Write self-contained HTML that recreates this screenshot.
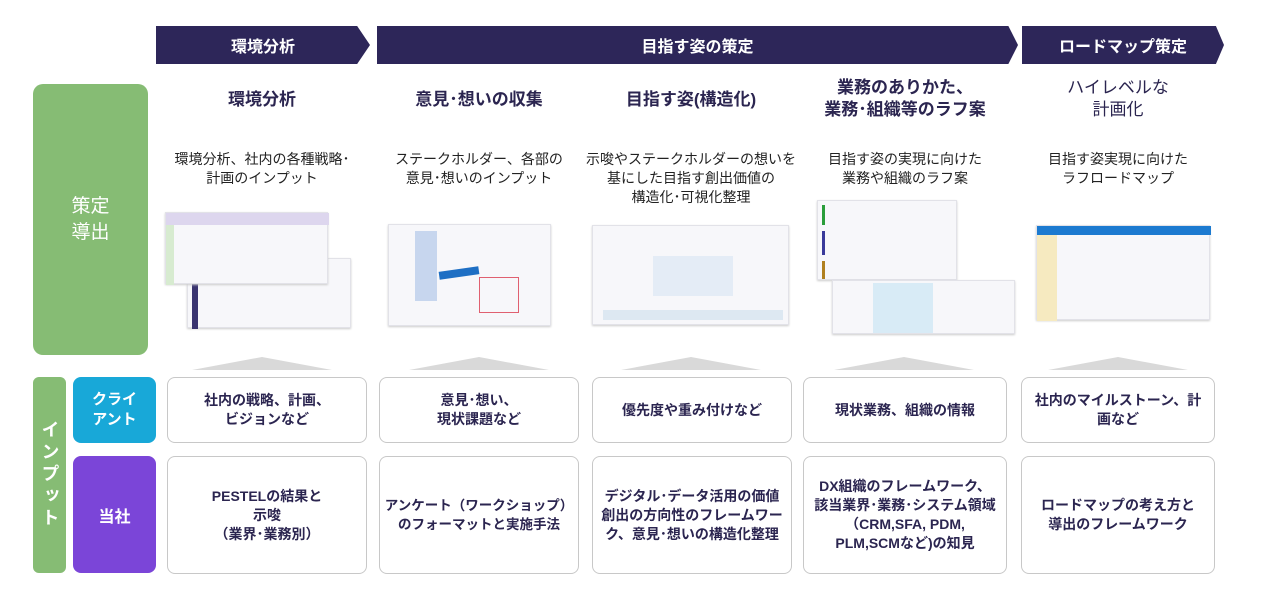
<!DOCTYPE html>
<html><head><meta charset="utf-8"><style>
*{margin:0;padding:0;box-sizing:border-box}
body{width:1280px;height:614px;background:#fff;position:relative;overflow:hidden;font-family:"Liberation Sans","Noto Sans CJK JP",sans-serif;color:#2b2550}
.a{position:absolute}
.hdr{background:#2d2659;color:#fff;font-weight:bold;font-size:16px;display:flex;align-items:center;justify-content:center;height:38px;top:26px}
.t{text-align:center;font-weight:bold;font-size:17px;line-height:22px}
.s{text-align:center;font-size:14px;line-height:19px;color:#222}
.b{border:1px solid #c8c8c8;border-radius:8px;background:#fff;display:flex;align-items:center;justify-content:center;text-align:center;font-weight:bold;font-size:14px;line-height:19px;color:#2b2550;padding:0 12px}
.tri{width:0;height:0;border-left:70px solid transparent;border-right:70px solid transparent;border-bottom:13px solid #d9d9d9;top:357px}
.th{background:#f7f7fa;border:1px solid #e2e2e8;box-shadow:0 1px 2px #ccc}
.th i{position:absolute;display:block}
</style></head><body>
<div class="a hdr" style="left:156px;width:214px;clip-path:polygon(0 0,94% 0,100% 50%,94% 100%,0 100%)">環境分析</div>
<div class="a hdr" style="left:377px;width:641px;clip-path:polygon(0 0,98.5% 0,100% 50%,98.5% 100%,0 100%)">目指す姿の策定</div>
<div class="a hdr" style="left:1022px;width:202px;clip-path:polygon(0 0,96% 0,100% 50%,96% 100%,0 100%)">ロードマップ策定</div>

<div class="a" style="left:33px;top:84px;width:115px;height:271px;background:#86bc74;border-radius:10px;color:#fff;font-size:19px;line-height:26px;display:flex;align-items:center;justify-content:center;text-align:center">策定<br>導出</div>
<div class="a" style="left:33px;top:377px;width:33px;height:196px;background:#86bc74;border-radius:6px;color:#fff;font-size:18px;font-weight:bold;display:flex;align-items:center;justify-content:center;writing-mode:vertical-rl;letter-spacing:4px">インプット</div>
<div class="a" style="left:73px;top:377px;width:83px;height:66px;background:#18a8d8;border-radius:8px;color:#fff;font-size:15px;font-weight:bold;line-height:20px;display:flex;align-items:center;justify-content:center;text-align:center">クライ<br>アント</div>
<div class="a" style="left:73px;top:456px;width:83px;height:117px;background:#7b45d8;border-radius:8px;color:#fff;font-size:16px;font-weight:bold;display:flex;align-items:center;justify-content:center">当社</div>

<div class="a t" style="left:160px;width:204px;top:89px">環境分析</div>
<div class="a t" style="left:372px;width:214px;top:89px">意見･想いの収集</div>
<div class="a t" style="left:586px;width:210px;top:89px">目指す姿(構造化)</div>
<div class="a t" style="left:795px;width:220px;top:77px">業務のありかた、<br>業務･組織等のラフ案</div>
<div class="a t" style="left:1016px;width:204px;top:77px;font-weight:normal">ハイレベルな<br>計画化</div>

<div class="a s" style="left:155px;width:214px;top:150px">環境分析、社内の各種戦略･<br>計画のインプット</div>
<div class="a s" style="left:372px;width:214px;top:150px">ステークホルダー、各部の<br>意見･想いのインプット</div>
<div class="a s" style="left:575px;width:232px;top:150px">示唆やステークホルダーの想いを<br>基にした目指す創出価値の<br>構造化･可視化整理</div>
<div class="a s" style="left:795px;width:220px;top:150px">目指す姿の実現に向けた<br>業務や組織のラフ案</div>
<div class="a s" style="left:1016px;width:204px;top:150px">目指す姿実現に向けた<br>ラフロードマップ</div>

<div class="a th" style="left:187px;top:258px;width:164px;height:70px"><i style="left:4px;top:0;width:6px;height:70px;background:#3a3470"></i></div>
<div class="a th" style="left:165px;top:212px;width:163px;height:72px"><i style="left:0;top:0;width:163px;height:12px;background:#ddd6ee"></i><i style="left:0;top:12px;width:8px;height:60px;background:#d7ebd0"></i></div>
<div class="a th" style="left:388px;top:224px;width:163px;height:102px"><i style="left:26px;top:6px;width:22px;height:70px;background:#c7d6ee"></i><i style="left:50px;top:44px;width:40px;height:8px;background:#1e6fc4;transform:rotate(-8deg)"></i><i style="left:90px;top:52px;width:40px;height:36px;border:1px solid #e06070"></i></div>
<div class="a th" style="left:592px;top:225px;width:197px;height:100px"><i style="left:60px;top:30px;width:80px;height:40px;background:#e4ecf6"></i><i style="left:10px;top:84px;width:180px;height:10px;background:#dde8f2"></i></div>
<div class="a th" style="left:817px;top:200px;width:140px;height:80px"><i style="left:4px;top:4px;width:3px;height:20px;background:#2a9d3a"></i><i style="left:4px;top:30px;width:3px;height:24px;background:#3a3a9a"></i><i style="left:4px;top:60px;width:3px;height:18px;background:#b08020"></i></div>
<div class="a th" style="left:832px;top:280px;width:183px;height:54px"><i style="left:40px;top:2px;width:60px;height:50px;background:#d8ebf6"></i></div>
<div class="a th" style="left:1036px;top:225px;width:174px;height:95px"><i style="left:0;top:0;width:174px;height:9px;background:#1c7ad0"></i><i style="left:0;top:9px;width:20px;height:86px;background:#f6eac0"></i></div>

<div class="a tri" style="left:192px"></div>
<div class="a tri" style="left:409px"></div>
<div class="a tri" style="left:621px"></div>
<div class="a tri" style="left:834px"></div>
<div class="a tri" style="left:1048px"></div>

<div class="a b" style="left:167px;top:377px;width:200px;height:66px">社内の戦略、計画、<br>ビジョンなど</div>
<div class="a b" style="left:379px;top:377px;width:200px;height:66px">意見･想い、<br>現状課題など</div>
<div class="a b" style="left:592px;top:377px;width:200px;height:66px">優先度や重み付けなど</div>
<div class="a b" style="left:803px;top:377px;width:204px;height:66px">現状業務、組織の情報</div>
<div class="a b" style="left:1021px;top:377px;width:194px;height:66px;padding:0 10px">社内のマイルストーン、計画など</div>

<div class="a b" style="left:167px;top:456px;width:200px;height:118px">PESTELの結果と<br>示唆<br>（業界･業務別）</div>
<div class="a b" style="left:379px;top:456px;width:200px;height:118px;padding:0 2px;font-size:13.5px;white-space:nowrap">アンケート（ワークショップ）<br>のフォーマットと実施手法</div>
<div class="a b" style="left:592px;top:456px;width:200px;height:118px;padding:0 8px">デジタル･データ活用の価値創出の方向性のフレームワーク、意見･想いの構造化整理</div>
<div class="a b" style="left:803px;top:456px;width:204px;height:118px;padding:0 10px">DX組織のフレームワーク、該当業界･業務･システム領域（CRM,SFA, PDM, PLM,SCMなど)の知見</div>
<div class="a b" style="left:1021px;top:456px;width:194px;height:118px;padding:0 14px">ロードマップの考え方と導出のフレームワーク</div>
</body></html>
